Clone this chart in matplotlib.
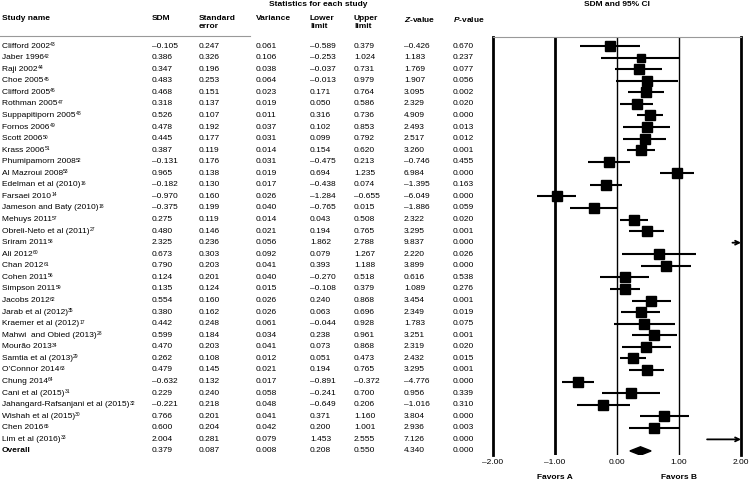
import numpy as np
import matplotlib
matplotlib.use('Agg')
import matplotlib.pyplot as plt
from matplotlib.lines import Line2D
from matplotlib.patches import Polygon
from matplotlib.transforms import blended_transform_factory

plt.rcParams['font.family'] = ['Liberation Sans', 'DejaVu Sans']
plt.rcParams['mathtext.fontset'] = 'custom'
plt.rcParams['mathtext.rm'] = 'Liberation Sans'
plt.rcParams['mathtext.it'] = 'Liberation Sans:italic'
plt.rcParams['mathtext.bf'] = 'Liberation Sans:bold'
plt.rcParams['mathtext.bfit'] = 'Liberation Sans:bold:italic'

# study data
studies = ['Clifford 2002', 'Jaber 1996', 'Raji 2002', 'Choe 2005', 'Clifford 2005',
           'Rothman 2005', 'Suppapitiporn 2005', 'Fornos 2006', 'Scott 2006', 'Krass 2006',
           'Phumipamorn 2008', 'Al Mazroui 2008', 'Edelman et al (2010)', 'Farsaei 2010',
           'Jameson and Baty (2010)', 'Mehuys 2011', 'Obreli-Neto et al (2011)', 'Sriram 2011',
           'Ali 2012', 'Chan 2012', 'Cohen 2011', 'Simpson 2011', 'Jacobs 2012',
           'Jarab et al (2012)', 'Kraemer et al (2012)', 'Mahwi  and Obied (2013)',
           'Mour\u00e3o 2013', 'Samtia et al (2013)', 'O\u2019Connor 2014', 'Chung 2014',
           'Cani et al (2015)', 'Jahangard-Rafsanjani et al (2015)', 'Wishah et al (2015)',
           'Chen 2016', 'Lim et al (2016)']
refs = ['43', '42', '44', '45', '46', '47', '48', '49', '50', '51', '52', '53', '16', '14',
        '18', '57', '27', '58', '60', '61', '56', '59', '62', '35', '17', '28', '34', '29',
        '63', '64', '31', '32', '30', '65', '33']
sdm = [-0.105, 0.386, 0.347, 0.483, 0.468, 0.318, 0.526, 0.478, 0.445, 0.387,
       -0.131, 0.965, -0.182, -0.970, -0.375, 0.275, 0.480, 2.325, 0.673, 0.790,
       0.124, 0.135, 0.554, 0.380, 0.442, 0.599, 0.470, 0.262, 0.479, -0.632,
       0.229, -0.221, 0.766, 0.600, 2.004]
se = [0.247, 0.326, 0.196, 0.253, 0.151, 0.137, 0.107, 0.192, 0.177, 0.119,
      0.176, 0.138, 0.130, 0.160, 0.199, 0.119, 0.146, 0.236, 0.303, 0.203,
      0.201, 0.124, 0.160, 0.162, 0.248, 0.184, 0.203, 0.108, 0.145, 0.132,
      0.240, 0.218, 0.201, 0.204, 0.281]
variance = [0.061, 0.106, 0.038, 0.064, 0.023, 0.019, 0.011, 0.037, 0.031, 0.014,
            0.031, 0.019, 0.017, 0.026, 0.040, 0.014, 0.021, 0.056, 0.092, 0.041,
            0.040, 0.015, 0.026, 0.026, 0.061, 0.034, 0.041, 0.012, 0.021, 0.017,
            0.058, 0.048, 0.041, 0.042, 0.079]
lower = [-0.589, -0.253, -0.037, -0.013, 0.171, 0.050, 0.316, 0.102, 0.099, 0.154,
         -0.475, 0.694, -0.438, -1.284, -0.765, 0.043, 0.194, 1.862, 0.079, 0.393,
         -0.270, -0.108, 0.240, 0.063, -0.044, 0.238, 0.073, 0.051, 0.194, -0.891,
         -0.241, -0.649, 0.371, 0.200, 1.453]
upper = [0.379, 1.024, 0.731, 0.979, 0.764, 0.586, 0.736, 0.853, 0.792, 0.620,
         0.213, 1.235, 0.074, -0.655, 0.015, 0.508, 0.765, 2.788, 1.267, 1.188,
         0.518, 0.379, 0.868, 0.696, 0.928, 0.961, 0.868, 0.473, 0.765, -0.372,
         0.700, 0.206, 1.160, 1.001, 2.555]
zval = [-0.426, 1.183, 1.769, 1.907, 3.095, 2.329, 4.909, 2.493, 2.517, 3.260,
        -0.746, 6.984, -1.395, -6.049, -1.886, 2.322, 3.295, 9.837, 2.220, 3.899,
        0.616, 1.089, 3.454, 2.349, 1.783, 3.251, 2.319, 2.432, 3.295, -4.776,
        0.956, -1.016, 3.804, 2.936, 7.126]
pval = [0.670, 0.237, 0.077, 0.056, 0.002, 0.020, 0.000, 0.013, 0.012, 0.001,
        0.455, 0.000, 0.163, 0.000, 0.059, 0.020, 0.001, 0.000, 0.026, 0.000,
        0.538, 0.276, 0.001, 0.019, 0.075, 0.001, 0.020, 0.015, 0.001, 0.000,
        0.339, 0.310, 0.000, 0.003, 0.000]
overall = [0.379, 0.087, 0.008, 0.208, 0.550, 4.340, 0.000]

ticks = [-2, -1, 0, 1, 2]
tick_labels = ['\u20132.00', '\u20131.00', '0.00', '1.00', '2.00']


def fmt(v):
    return '{:.3f}'.format(v).replace('-', '\u2013')


W, H = 749, 480
fig = plt.figure(figsize=(7.49, 4.8), dpi=100)

n = len(studies)
ax = fig.add_axes([493 / W, 1 - 455 / H, (741 - 493) / W, (455 - 37) / H])
ax.set_xlim(-2, 2)
ax.set_ylim(35.35, -0.78)
ax.set_yticks([])
ax.set_xticks(ticks)
ax.set_xticklabels(tick_labels)
ax.tick_params(axis='x', length=0, pad=3, labelsize=6)
ax.spines['bottom'].set_visible(False)
ax.spines['top'].set_color('#999999')
ax.spines['top'].set_linewidth(0.8)
ax.spines['left'].set_linewidth(2)
ax.spines['right'].set_linewidth(2)

ax.axvline(-1, color='black', lw=2, zorder=1)
ax.axvline(0, color='black', lw=1, zorder=1)
ax.axvline(1, color='black', lw=1, zorder=1)

# random-effects weights for marker size
y = np.array(sdm)
v = np.array(variance)
w = 1 / v
ybar = np.sum(w * y) / np.sum(w)
Q = np.sum(w * (y - ybar) ** 2)
C = np.sum(w) - np.sum(w ** 2) / np.sum(w)
tau2 = max(0, (Q - (n - 1)) / C)
wr = 1 / (v + tau2)
msize = 10.5 * np.sqrt(wr / wr.max()) * 0.72

for i in range(n):
    if upper[i] > 2:
        ax.annotate('', xy=(2, i), xytext=(lower[i], i),
                    arrowprops=dict(arrowstyle='->', lw=1.3, color='black',
                                    shrinkA=0, shrinkB=0, mutation_scale=7))
    else:
        ax.hlines(i, max(lower[i], -2), upper[i], color='black', lw=1.5, zorder=2)
    if sdm[i] < 2:
        ax.plot(sdm[i], i, 's', color='black', ms=msize[i], zorder=3)

est, lo, hi = overall[0], overall[3], overall[4]
ax.add_patch(Polygon([(lo, n), (est, n - 0.36), (hi, n), (est, n + 0.36)],
                     closed=True, color='black', zorder=3))

xa = ax.get_xaxis_transform()
ax.text(-1, -0.053, 'Favors A', transform=xa, ha='center', va='center',
        fontsize=6, fontweight='bold')
ax.text(1, -0.053, 'Favors B', transform=xa, ha='center', va='center',
        fontsize=6, fontweight='bold')

# table
cols = [2, 152, 199, 256, 310, 354, 404, 453]
tr = blended_transform_factory(fig.transFigure, ax.transData)
for i in range(n):
    vals = [sdm[i], se[i], variance[i], lower[i], upper[i], zval[i], pval[i]]
    t = ax.text(cols[0] / W, i, studies[i], transform=tr,
                ha='left', va='center', fontsize=6, clip_on=False)
    # small reference number as superscript right after the name
    ax.annotate(refs[i], xy=(1, 0.72), xycoords=t, xytext=(0.1, 0),
                textcoords='offset points', ha='left', va='center', fontsize=3.6)
    for c, val in zip(cols[1:], vals):
        ax.text(c / W, i, fmt(val), transform=tr, ha='left', va='center',
                fontsize=6, clip_on=False)
ax.text(cols[0] / W, n, 'Overall', transform=tr, ha='left', va='center',
        fontsize=6, fontweight='bold', clip_on=False)
for c, val in zip(cols[1:], overall):
    ax.text(c / W, n, fmt(val), transform=tr, ha='left', va='center',
            fontsize=6, clip_on=False)

# headers
hdr = ['Study name', 'SDM', 'Standard\nerror', 'Variance', 'Lower\nlimit',
       'Upper\nlimit', r'$\mathbfit{Z}$-value', r'$\mathbfit{P}$-value']
for c, h in zip(cols, hdr):
    fig.text(c / W, 1 - 14.5 / H, h, ha='left', va='top', fontsize=6,
             fontweight='bold', linespacing=1.3)
fig.text(318 / W, 1 - 4 / H, 'Statistics for each study', ha='center', va='center',
         fontsize=6, fontweight='bold')
fig.text(617 / W, 1 - 4 / H, 'SDM and 95% CI', ha='center', va='center',
         fontsize=6, fontweight='bold')
fig.add_artist(Line2D([0, 250 / W], [1 - 36 / H, 1 - 36 / H], color='#999999', lw=0.8))

fig.savefig('out.png', dpi=100)
